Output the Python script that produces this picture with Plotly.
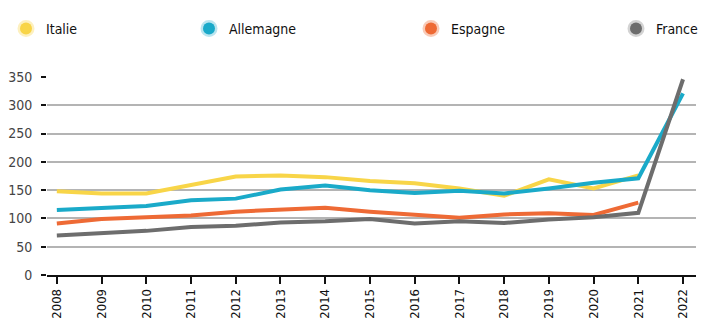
import plotly.graph_objects as go

years = list(range(2008, 2023))
italie = [148, 144, 144, 159, 174, 176, 173, 166, 162, 153, 140, 169, 153, 176, None]
allemagne = [115, 118, 122, 132, 135, 151, 158, 150, 145, 149, 144, 153, 163, 171, 321]
espagne = [91, 99, 102, 105, 112, 116, 119, 112, 106, 101, 107, 109, 106, 128, None]
france = [70, 74, 78, 85, 87, 93, 95, 99, 91, 95, 92, 98, 102, 110, 346]

series = [
    ("Italie", italie, "#F8D548", "rgba(248,213,72,0.35)"),
    ("Allemagne", allemagne, "#1AAAC9", "rgba(26,170,201,0.3)"),
    ("Espagne", espagne, "#EE6A35", "rgba(238,106,53,0.35)"),
    ("France", france, "#6D6D6D", "rgba(109,109,109,0.3)"),
]

W, H = 714, 336
L, R, T, B = 47, 18, 77, 61
legend_x_px = [6, 189, 411, 616]

FONT = "DejaVu Sans Condensed, Liberation Sans Narrow, sans-serif"

fig = go.Figure()
for i, (name, vals, col, halo) in enumerate(series):
    fig.add_trace(go.Scatter(x=years, y=vals, mode="lines", name=name,
                             line=dict(color=col, width=4), showlegend=False,
                             connectgaps=False, hoverinfo="skip"))
for i, (name, vals, col, halo) in enumerate(series):
    lg = "legend" if i == 0 else f"legend{i+1}"
    fig.add_trace(go.Scatter(x=[None], y=[None], mode="markers", name=name,
                             marker=dict(color=col, size=12, line=dict(color=halo, width=5)),
                             legend=lg, showlegend=True))

pw = W - L - R
legends = {}
for i, px in enumerate(legend_x_px):
    key = "legend" if i == 0 else f"legend{i+1}"
    legends[key] = dict(
        x=(px - L) / pw, xanchor="left", y=1 + (T - 29) / (H - T - B), yanchor="middle",
        orientation="h", bgcolor="rgba(0,0,0,0)",
        font=dict(family=FONT, size=14, color="#111"),
        itemwidth=30,
    )

fig.update_layout(
    width=W, height=H,
    margin=dict(l=L, r=R, t=T, b=B, autoexpand=False),
    paper_bgcolor="white", plot_bgcolor="white",
    **legends,
    xaxis=dict(
        range=[2007.78, 2022.29], tickmode="array", tickvals=years,
        ticktext=[str(y) for y in years], tickangle=-90,
        showgrid=False, zeroline=False, showline=True, linecolor="#111", linewidth=1.5,
        ticks="outside", ticklen=7, tickcolor="#111", tickwidth=1.5,
        tickfont=dict(family=FONT, size=13, color="#111"),
        fixedrange=True,
    ),
    yaxis=dict(
        range=[0, 350], tickvals=[0, 50, 100, 150, 200, 250, 300, 350],
        showgrid=True, gridcolor="#B4B4B4", gridwidth=1.5, zeroline=False,
        showline=False, ticks="outside", ticklen=5, tickcolor="#111", tickwidth=2,
        ticklabelstandoff=6,
        tickfont=dict(family=FONT, size=14, color="#444"),
        fixedrange=True,
    ),
)

fig.write_html("out.html", config=dict(displayModeBar=False))
